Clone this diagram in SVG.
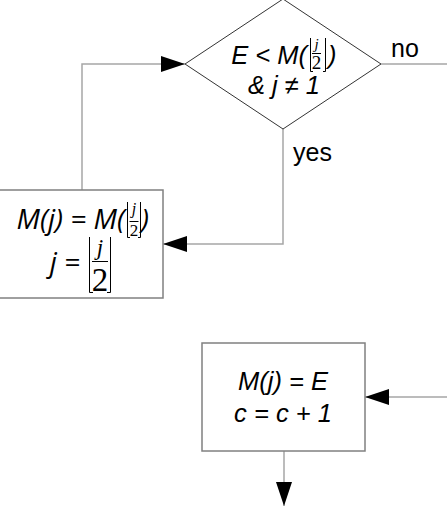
<svg xmlns="http://www.w3.org/2000/svg" width="447" height="506" viewBox="0 0 447 506">
<style>
.conn{fill:none;stroke:#a6a6a6;stroke-width:1.5}
.box{fill:#fff;stroke:#808080;stroke-width:1.5}
.dia{fill:#fff;stroke:#333;stroke-width:1}
.it{font-family:"Liberation Sans",Arial,sans-serif;font-style:italic;font-size:25.5px;fill:#000}
.lab{font-family:"Liberation Sans",Arial,sans-serif;font-size:25px;fill:#000}
.ot{font-family:"Open Sans","Noto Sans",sans-serif;font-style:italic;font-size:28px;fill:#000}
.sj{font-family:"Liberation Serif","Times New Roman",serif;font-style:italic;fill:#000}
.s2{font-family:"Liberation Serif","Times New Roman",serif;fill:#000}
.br{fill:none;stroke:#000;stroke-width:1}
.bar{stroke:#000;stroke-width:1}
</style>
<defs>
<marker id="ah" markerUnits="userSpaceOnUse" markerWidth="24" markerHeight="16" refX="24" refY="8" orient="auto">
<path d="M0,0 L24,8 L0,16 z" fill="#000"/>
</marker>
</defs>
<rect width="447" height="506" fill="#fff"/>
<g id="connectors">
<path class="conn" d="M82,190 V64 H185" marker-end="url(#ah)"/>
<path class="conn" d="M283,129 V244 H163" marker-end="url(#ah)"/>
<path class="conn" d="M381,64 H447"/>
<path class="conn" d="M447,397 H365" marker-end="url(#ah)"/>
<path class="conn" d="M284,451 V506" marker-end="url(#ah)"/>
<text class="lab" x="391" y="57">no</text>
<text class="lab" x="293" y="161">yes</text>
</g>
<g id="decision">
<polygon class="dia" points="283,-1 381,64 283,129 185,64"/>
<text class="it" x="307" y="64" text-anchor="end">E &lt; M(</text>
<text class="sj" x="316.5" y="49" font-size="15" text-anchor="middle">j</text>
<line class="bar" x1="312" y1="53.5" x2="321" y2="53.5"/>
<text class="s2" x="316.5" y="69" font-size="19" text-anchor="middle">2</text>
<path class="br" d="M310.5,38 V71.5 H313 M325.5,38 V71.5 H323"/>
<text class="it" x="328" y="64">)</text>
<text class="it" x="284" y="94" text-anchor="middle">&amp; j ≠ 1</text>
</g>
<g id="update">
<rect class="box" x="-5" y="190" width="168" height="108"/>
<text class="ot" x="125" y="229" text-anchor="end">M(j) = M(</text>
<text class="sj" x="134" y="214" font-size="16" text-anchor="middle">j</text>
<line class="bar" x1="129.5" y1="221.5" x2="138.5" y2="221.5"/>
<text class="s2" x="134" y="236" font-size="17" text-anchor="middle">2</text>
<path class="br" d="M127.5,202 V237.5 H130 M140.5,202 V237.5 H138"/>
<text class="ot" x="141" y="229">)</text>
<text class="ot" x="80" y="272" text-anchor="end">j =</text>
<text class="sj" x="100" y="255" font-size="23" text-anchor="middle">j</text>
<line class="bar" x1="92" y1="261.5" x2="108" y2="261.5"/>
<text class="s2" x="100" y="291" font-size="33" text-anchor="middle">2</text>
<path class="br" d="M89.5,237 V292.5 H93 M110.5,237 V292.5 H107"/>
</g>
<g id="store">
<rect class="box" x="202" y="343" width="163" height="108"/>
<text class="it" x="283" y="390" text-anchor="middle">M(j) = E</text>
<text class="it" x="283" y="422" text-anchor="middle">c = c + 1</text>
</g>
</svg>
